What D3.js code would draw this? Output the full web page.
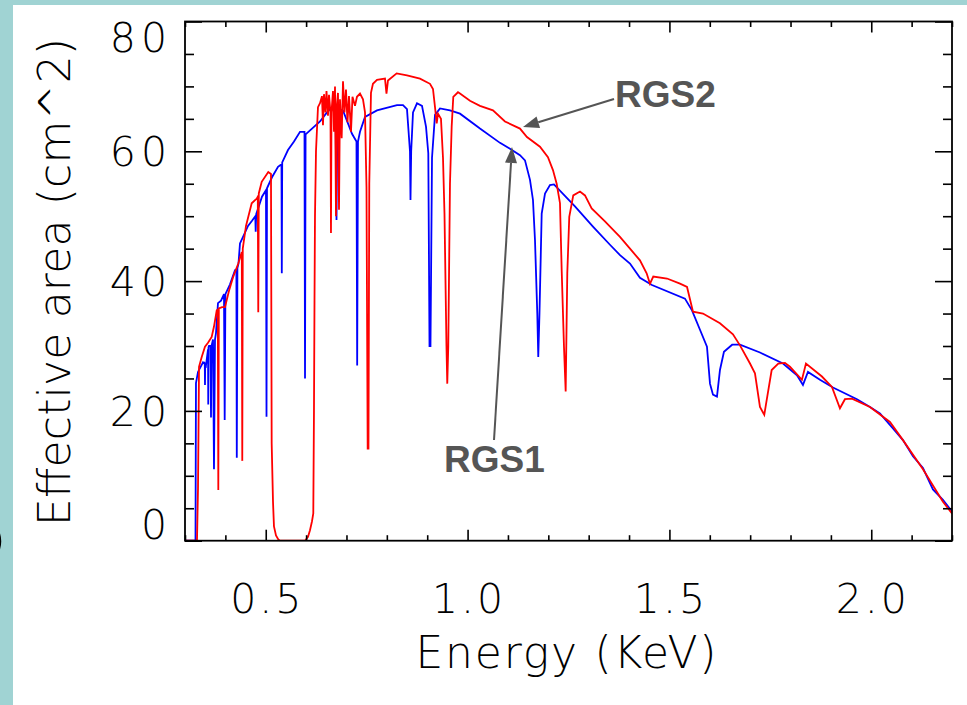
<!DOCTYPE html>
<html>
<head>
<meta charset="utf-8">
<script src="https://cdn.jsdelivr.net/npm/d3@7"></script>
<style>
  html, body { margin: 0; padding: 0; background: #a0d3d3; }
  svg { display: block; }
  .tick-label, .axis-title { font-family: "DejaVu Sans", sans-serif; font-weight: 200; fill: #000; }
  .note { font-family: "Liberation Sans", Arial, sans-serif; font-weight: bold; fill: #555; }
</style>
</head>
<body>
<script>
// RGS1 effective area (cm^2) versus photon energy (keV)
const rgs1Energy = [0.300, 0.326, 0.3272, 0.3322, 0.3446, 0.3490, 0.3495, 0.3500, 0.3520, 0.3570,
  0.3576, 0.3582, 0.3594, 0.3632, 0.3644, 0.3656,
  0.3694, 0.3718, 0.3743, 0.3768, 0.3817, 0.3892, 0.3966, 0.3983, 0.4001, 0.4115,
  0.4239, 0.4273, 0.4283, 0.4298, 0.4325, 0.4362, 0.4437, 0.4561, 0.4660, 0.4741,
  0.4751, 0.4764, 0.4907, 0.5006, 0.5019, 0.5031, 0.5155, 0.5304, 0.5390, 0.5398,
  0.5408, 0.5551, 0.5700, 0.5849, 0.5960, 0.5973, 0.5987, 0.6146, 0.6344, 0.6517,
  0.6666, 0.6728, 0.6753, 0.6777, 0.6914, 0.7137, 0.7248, 0.7265, 0.7285, 0.7335,
  0.7459, 0.7756, 0.8251, 0.8400, 0.8499, 0.8573, 0.8586, 0.8603, 0.8648, 0.8747,
  0.8871, 0.8970, 0.9027, 0.9057, 0.9081, 0.9119, 0.9193, 0.9317, 0.9564, 0.9812,
  1.0307, 1.0803, 1.1050, 1.1298, 1.1422, 1.1546, 1.1620, 1.1670, 1.1727, 1.1751,
  1.1781, 1.1836, 1.1918, 1.2041, 1.2140, 1.2660, 1.3106, 1.3527, 1.3776, 1.4023,
  1.4270, 1.4567, 1.5385, 1.5559, 1.5757, 1.5930, 1.6005, 1.6079, 1.6178, 1.6252,
  1.6351, 1.6554, 1.6748, 1.7243, 1.7813, 1.8160, 1.8308, 1.8432, 1.8729, 1.9051,
  1.9646, 1.9968, 2.0215, 2.0537, 2.0785, 2.1033, 2.1281, 2.1528, 2.1776, 2.2000];
const rgs1Area = [0, 0, 24.3, 26, 27.5, 27.2, 24, 27.2, 27, 29.5,
  21, 29.8, 30, 30, 19, 30,
  31, 11, 31, 32, 36.6, 37, 38, 18.6, 38, 39.5,
  41.7, 41.8, 12.8, 42, 42.7, 45.8, 46.8, 48.5, 49.3, 50,
  47.6, 50.3, 53, 54, 19.1, 54.3, 56, 57.6, 58, 41.2,
  58.3, 60.2, 61.5, 63, 63, 25, 62.6, 63.5, 64.6, 66,
  67, 66.8, 49.4, 66.5, 66.3, 62.7, 61.5, 27, 61.5, 63,
  65.3, 66.3, 67.1, 67.1, 66.5, 60, 52.5, 60, 66, 67.4,
  67, 63.8, 59.7, 30, 30, 59, 65.6, 66.6, 66.3, 65.8,
  63.5, 61.3, 60.4, 59.4, 58.6, 55.6, 52.5, 46.3, 35, 28.3,
  35, 50.4, 53.5, 54.8, 54.9, 51.5, 48.4, 45.6, 44, 42.7,
  40.5, 39.4, 37.3, 35.5, 32.5, 29.9, 24.2, 22.5, 22.2, 26.3,
  29.1, 30.2, 30.2, 29, 27.3, 25.5, 24, 26, 24.8, 23.6,
  21.8, 20.6, 19.6, 17.3, 15.5, 13, 11.2, 7.9, 6.3, 4.5];

// RGS2 effective area (cm^2) versus photon energy (keV)
const rgs2Energy = [0.300, 0.3297, 0.3322, 0.3334, 0.3347, 0.3414, 0.3495, 0.3570, 0.3661, 0.3718,
  0.3786, 0.3813, 0.3825, 0.3838, 0.3917, 0.3991, 0.4090, 0.4196, 0.4320, 0.4407,
  0.4419, 0.4431, 0.4511, 0.4652, 0.4776, 0.4803, 0.4815, 0.4828, 0.4900, 0.5063,
  0.5130, 0.5147, 0.5180, 0.5204, 0.5254, 0.5311, 0.5353, 0.5973, 0.6047, 0.6096,
  0.6146, 0.6178, 0.6195, 0.6208, 0.6220, 0.6245, 0.6294, 0.6344, 0.6393, 0.6418,
  0.6443, 0.6480, 0.6505, 0.6542, 0.6567, 0.6604, 0.6616, 0.6629, 0.6666, 0.6691,
  0.6716, 0.6740, 0.6760, 0.6790, 0.6815, 0.6839, 0.6881, 0.6914, 0.6951, 0.6988,
  0.7025, 0.7062, 0.7112, 0.7149, 0.7211, 0.7260, 0.7335, 0.7409, 0.7459, 0.7496,
  0.7525, 0.7545, 0.7565, 0.7607, 0.7656, 0.7756, 0.7954, 0.7991, 0.8028, 0.8243,
  0.8499, 0.8821, 0.9069, 0.9143, 0.9193, 0.9235, 0.9267, 0.9341, 0.9391, 0.9428,
  0.9477, 0.9497, 0.9522, 0.9564, 0.9606, 0.9646, 0.9762, 0.9812, 1.0059, 1.0307,
  1.0629, 1.0926, 1.1298, 1.1471, 1.1793, 1.1991, 1.2115, 1.2207, 1.2289, 1.2331,
  1.2388, 1.2430, 1.2470, 1.2519, 1.2618, 1.2784, 1.2908, 1.3074, 1.3403, 1.3775,
  1.4023, 1.4270, 1.4436, 1.4518, 1.4600, 1.4940, 1.5262, 1.5436, 1.5584, 1.5831,
  1.6252, 1.6574, 1.6748, 1.6996, 1.7119, 1.7243, 1.7350, 1.7392, 1.7533, 1.7696,
  1.7862, 1.7986, 1.8283, 1.8382, 1.8778, 1.9026, 1.9224, 1.9348, 1.9522, 1.9968,
  2.0463, 2.0785, 2.1281, 2.1776, 2.2000];
const rgs2Area = [0, 0, 8, 16.6, 26.8, 28.3, 29.9, 30.5, 31.4, 33,
  35.5, 35.6, 7.8, 35.8, 36, 36, 38.5, 40.7, 42.7, 44.5,
  12.3, 45, 48.5, 52, 52.7, 53, 35.2, 53.5, 55.3, 56.8,
  56.5, 15, 6, 2.2, 0.8, 0.2, 0, 0, 0.6, 1.6,
  3, 4.2, 20, 37, 50, 60, 66.8, 67.4, 68.5, 64,
  68.8, 66, 69.3, 65.5, 68.7, 66, 47.4, 66, 69.3, 63,
  70, 50, 67, 69, 51, 68, 62, 70.8, 66, 69.5,
  64.5, 68.5, 63, 68.4, 67, 68.4, 68.9, 68, 66, 54.5,
  14.2, 14.2, 55, 69, 70.4, 71, 71.2, 68.9, 70.9, 72,
  71.7, 71.2, 70.4, 69.6, 66.8, 64.3, 65.8, 65, 59, 50.4,
  30, 24.2, 30, 55, 63.8, 68.4, 69.1, 68.9, 67.8, 67,
  66.3, 64.6, 63.5, 62.2, 60.7, 59.1, 57.1, 55, 52, 41.7,
  29.9, 23, 41.2, 49.9, 53.2, 53.8, 53.2, 51.2, 49.2, 46.8,
  45.0, 43.2, 41.2, 39.6, 40.7, 40.4, 39.6, 39.1, 35.3, 35,
  33.5, 31.8, 30.1, 27.3, 25.8, 20.6, 19.4, 21, 26.3, 27.3,
  27.4, 26.8, 24.8, 27.3, 25.3, 23.7, 20.4, 21.8, 21.9, 20.6,
  18.3, 15.5, 11, 6, 4.2];

// Axis ranges and tick values
const energyDomain = [0.3, 2.2];
const areaDomain = [0, 80];
const energyMajorTicks = [0.5, 1.0, 1.5, 2.0];
const energyTickLabels = ["0.5", "1.0", "1.5", "2.0"];
const areaMajorTicks = [0, 20, 40, 60, 80];
const areaTickLabels = ["0", "20", "40", "60", "80"];
const energyMinorStep = 0.1;
const areaMinorStep = 5;

const W = 967, H = 705;
const plot = { left: 185, top: 21.5, right: 952, bottom: 540.7 };

const svg = d3.select("body").append("svg").attr("width", W).attr("height", H);

// white panel on the teal slide background
svg.append("rect").attr("x", 13).attr("y", 5).attr("width", W - 13).attr("height", H - 5).attr("fill", "#ffffff");

// small dark arc at the slide's left edge
svg.append("path")
  .attr("d", "M-2,530 Q3,541 -2,553")
  .attr("fill", "none").attr("stroke", "#000").attr("stroke-width", 1.5);

const x = d3.scaleLinear().domain(energyDomain).range([plot.left, plot.right]);
const y = d3.scaleLinear().domain(areaDomain).range([plot.bottom, plot.top]);

// clip curves to the plot box
svg.append("clipPath").attr("id", "plotClip").append("rect")
  .attr("x", plot.left).attr("y", plot.top - 1)
  .attr("width", plot.right - plot.left).attr("height", plot.bottom - plot.top + 1);

const line = d3.line().x(d => x(d[0])).y(d => y(d[1]));
const rgs1 = d3.zip(rgs1Energy, rgs1Area);
const rgs2 = d3.zip(rgs2Energy, rgs2Area);

const curves = svg.append("g").attr("clip-path", "url(#plotClip)");
curves.append("path").datum(rgs1).attr("d", line)
  .attr("fill", "none").attr("stroke", "#0000ff").attr("stroke-width", 1.8);
curves.append("path").datum(rgs2).attr("d", line)
  .attr("fill", "none").attr("stroke", "#ff0000").attr("stroke-width", 1.8);

// axes: bottom/top share energy ticks, left/right share area ticks
const eMinor = d3.range(energyDomain[0], energyDomain[1] + 1e-9, energyMinorStep)
  .filter(v => !energyMajorTicks.some(m => Math.abs(m - v) < 1e-6));
const aMinor = d3.range(areaDomain[0], areaDomain[1] + 1e-9, areaMinorStep)
  .filter(v => !areaMajorTicks.some(m => Math.abs(m - v) < 1e-6));

function axisX(g, dir) {
  g.call(d3[dir](x).tickValues(energyMajorTicks).tickSize(11).tickFormat(""));
  g.append("g").call(d3[dir](x).tickValues(eMinor).tickSize(5.5).tickFormat(""));
}
function axisY(g, dir) {
  g.call(d3[dir](y).tickValues(areaMajorTicks).tickSize(17).tickFormat(""));
  g.append("g").call(d3[dir](y).tickValues(aMinor).tickSize(9).tickFormat(""));
}
axisX(svg.append("g").attr("transform", `translate(0,${plot.bottom})`), "axisTop");
axisX(svg.append("g").attr("transform", `translate(0,${plot.top})`), "axisBottom");
axisY(svg.append("g").attr("transform", `translate(${plot.left},0)`), "axisRight");
axisY(svg.append("g").attr("transform", `translate(${plot.right},0)`), "axisLeft");
svg.selectAll(".domain").remove();
svg.selectAll(".tick line").attr("stroke", "#000").attr("stroke-width", 1.6);

// frame
svg.append("rect").attr("x", plot.left).attr("y", plot.top)
  .attr("width", plot.right - plot.left).attr("height", plot.bottom - plot.top)
  .attr("fill", "none").attr("stroke", "#000").attr("stroke-width", 1.8);

// tick labels
svg.append("g").selectAll("text").data(energyMajorTicks).join("text")
  .attr("class", "tick-label")
  .attr("x", d => x(d) + 1.5).attr("y", 613)
  .attr("text-anchor", "middle").attr("font-size", 41)
  .attr("letter-spacing", 3)
  .text((d, i) => energyTickLabels[i]);

svg.append("g").selectAll("text").data(areaMajorTicks).join("text")
  .attr("class", "tick-label")
  .attr("x", plot.left - 18 + 5)
  .attr("y", d => Math.min(Math.max(y(d), plot.top + 16), plot.bottom - 16))
  .attr("dy", "0.36em")
  .attr("text-anchor", "end").attr("font-size", 41)
  .attr("letter-spacing", 5)
  .text((d, i) => areaTickLabels[i]);

// axis titles
svg.append("text").attr("class", "axis-title")
  .attr("x", 566).attr("y", 668)
  .attr("text-anchor", "middle").attr("font-size", 44)
  .attr("textLength", 301).attr("lengthAdjust", "spacing")
  .text("Energy (KeV)");

svg.append("text").attr("class", "axis-title")
  .attr("transform", "translate(70,282) rotate(-90)")
  .attr("text-anchor", "middle").attr("font-size", 44)
  .attr("textLength", 488).attr("lengthAdjust", "spacing")
  .text("Effective area (cm^2)");

// annotations with arrows
const notes = [
  { text: "RGS2", tx: 615, ty: 107, from: [614, 99], to: [523, 127] },
  { text: "RGS1", tx: 444, ty: 472, from: [494, 440], to: [512, 147] }
];
const headLen = 16, headHalf = 6;
notes.forEach(n => {
  const dx = n.to[0] - n.from[0], dy = n.to[1] - n.from[1];
  const len = Math.hypot(dx, dy), ux = dx / len, uy = dy / len;
  const bx = n.to[0] - ux * headLen, by = n.to[1] - uy * headLen;
  svg.append("line")
    .attr("x1", n.from[0]).attr("y1", n.from[1]).attr("x2", bx).attr("y2", by)
    .attr("stroke", "#555").attr("stroke-width", 2);
  svg.append("path")
    .attr("d", `M${n.to[0]},${n.to[1]} L${bx - uy * headHalf},${by + ux * headHalf} L${bx + uy * headHalf},${by - ux * headHalf} Z`)
    .attr("fill", "#555");
  svg.append("text").attr("class", "note")
    .attr("x", n.tx).attr("y", n.ty).attr("font-size", 37)
    .text(n.text);
});
</script>
</body>
</html>
